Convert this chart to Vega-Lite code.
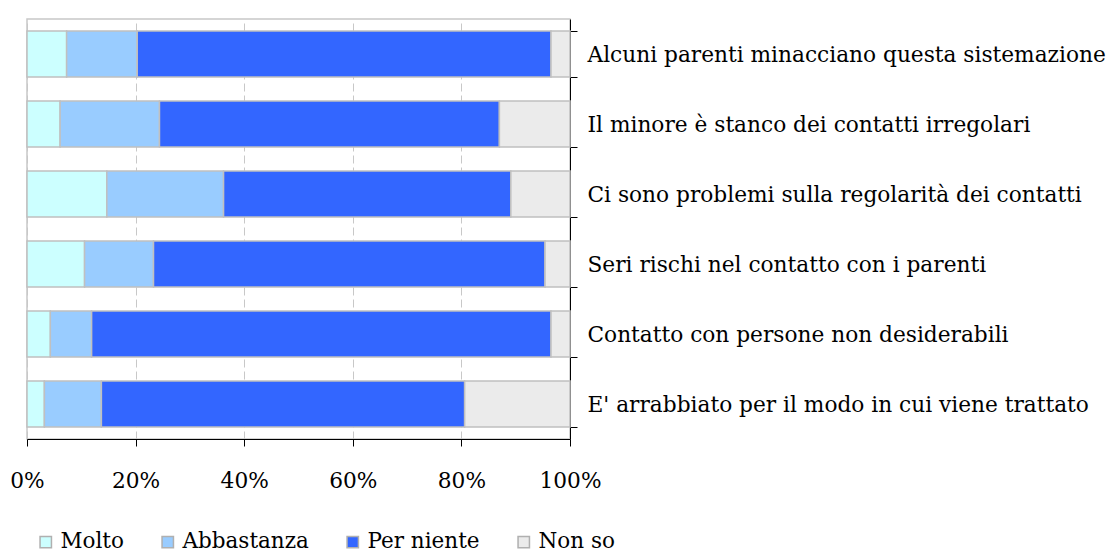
{
  "$schema": "https://vega.github.io/schema/vega-lite/v6.json",
  "autosize": "none",
  "width": 543,
  "height": 420,
  "padding": {"left": 27, "top": 19, "right": 543, "bottom": 113},
  "background": "white",
  "view": {"stroke": "#c8c8c8", "strokeWidth": 1.5},
  "config": {
    "font": "DejaVu Serif",
    "axis": {"labelFont": "DejaVu Serif", "labelFontSize": 21.7, "labelColor": "#000000"},
    "legend": {"labelFont": "DejaVu Serif", "labelFontSize": 21.5, "labelColor": "#000000"}
  },
  "data": {
    "values": [
      {"item": "Alcuni parenti minacciano questa sistemazione", "cat": "Molto", "ord": 1, "v": 7.3},
      {"item": "Alcuni parenti minacciano questa sistemazione", "cat": "Abbastanza", "ord": 2, "v": 13.0},
      {"item": "Alcuni parenti minacciano questa sistemazione", "cat": "Per niente", "ord": 3, "v": 76.2},
      {"item": "Alcuni parenti minacciano questa sistemazione", "cat": "Non so", "ord": 4, "v": 3.5},
      {"item": "Il minore è stanco dei contatti irregolari", "cat": "Molto", "ord": 1, "v": 6.1},
      {"item": "Il minore è stanco dei contatti irregolari", "cat": "Abbastanza", "ord": 2, "v": 18.3},
      {"item": "Il minore è stanco dei contatti irregolari", "cat": "Per niente", "ord": 3, "v": 62.6},
      {"item": "Il minore è stanco dei contatti irregolari", "cat": "Non so", "ord": 4, "v": 13.0},
      {"item": "Ci sono problemi sulla regolarità dei contatti", "cat": "Molto", "ord": 1, "v": 14.7},
      {"item": "Ci sono problemi sulla regolarità dei contatti", "cat": "Abbastanza", "ord": 2, "v": 21.5},
      {"item": "Ci sono problemi sulla regolarità dei contatti", "cat": "Per niente", "ord": 3, "v": 52.9},
      {"item": "Ci sono problemi sulla regolarità dei contatti", "cat": "Non so", "ord": 4, "v": 10.9},
      {"item": "Seri rischi nel contatto con i parenti", "cat": "Molto", "ord": 1, "v": 10.6},
      {"item": "Seri rischi nel contatto con i parenti", "cat": "Abbastanza", "ord": 2, "v": 12.7},
      {"item": "Seri rischi nel contatto con i parenti", "cat": "Per niente", "ord": 3, "v": 72.1},
      {"item": "Seri rischi nel contatto con i parenti", "cat": "Non so", "ord": 4, "v": 4.6},
      {"item": "Contatto con persone non desiderabili", "cat": "Molto", "ord": 1, "v": 4.3},
      {"item": "Contatto con persone non desiderabili", "cat": "Abbastanza", "ord": 2, "v": 7.6},
      {"item": "Contatto con persone non desiderabili", "cat": "Per niente", "ord": 3, "v": 84.6},
      {"item": "Contatto con persone non desiderabili", "cat": "Non so", "ord": 4, "v": 3.5},
      {"item": "E' arrabbiato per il modo in cui viene trattato", "cat": "Molto", "ord": 1, "v": 3.2},
      {"item": "E' arrabbiato per il modo in cui viene trattato", "cat": "Abbastanza", "ord": 2, "v": 10.5},
      {"item": "E' arrabbiato per il modo in cui viene trattato", "cat": "Per niente", "ord": 3, "v": 66.9},
      {"item": "E' arrabbiato per il modo in cui viene trattato", "cat": "Non so", "ord": 4, "v": 19.4}
    ]
  },
  "mark": {"type": "bar", "stroke": "#c0c0c0", "strokeWidth": 1.5},
  "encoding": {
    "y": {
      "field": "item",
      "type": "nominal",
      "sort": null,
      "scale": {"paddingInner": 0.34, "paddingOuter": 0.17},
      "axis": {
        "orient": "right",
        "title": null,
        "labelAlign": "left",
        "labelPadding": 10,
        "labelLimit": 600,
        "tickBand": "extent",
        "tickSize": 7,
        "tickColor": "#000000",
        "domainColor": "#000000",
        "tickWidth": 1,
        "domainWidth": 1
      }
    },
    "x": {
      "field": "v",
      "type": "quantitative",
      "stack": "normalize",
      "scale": {"domain": [0, 1], "nice": false},
      "axis": {
        "title": null,
        "format": ".0%",
        "values": [0, 0.2, 0.4, 0.6, 0.8, 1],
        "labelFlush": false,
        "labelOverlap": false,
        "grid": true,
        "gridColor": "#c8c8c8",
        "gridDash": [8, 4],
        "gridWidth": 1,
        "tickSize": 7,
        "tickColor": "#000000",
        "domainColor": "#000000",
        "labelPadding": 24
      }
    },
    "color": {
      "field": "cat",
      "type": "nominal",
      "scale": {
        "domain": ["Molto", "Abbastanza", "Per niente", "Non so"],
        "range": ["#ccffff", "#99ccff", "#3366ff", "#ebebeb"]
      },
      "legend": {
        "title": null,
        "orient": "none",
        "direction": "horizontal",
        "columns": 4,
        "legendX": 8,
        "legendY": 512,
        "symbolType": "square",
        "symbolSize": 130,
        "symbolStrokeColor": "#b0b0b0",
        "symbolStrokeWidth": 1.5,
        "labelOffset": 4,
        "columnPadding": 33
      }
    },
    "order": {"field": "ord", "type": "quantitative"}
  }
}
